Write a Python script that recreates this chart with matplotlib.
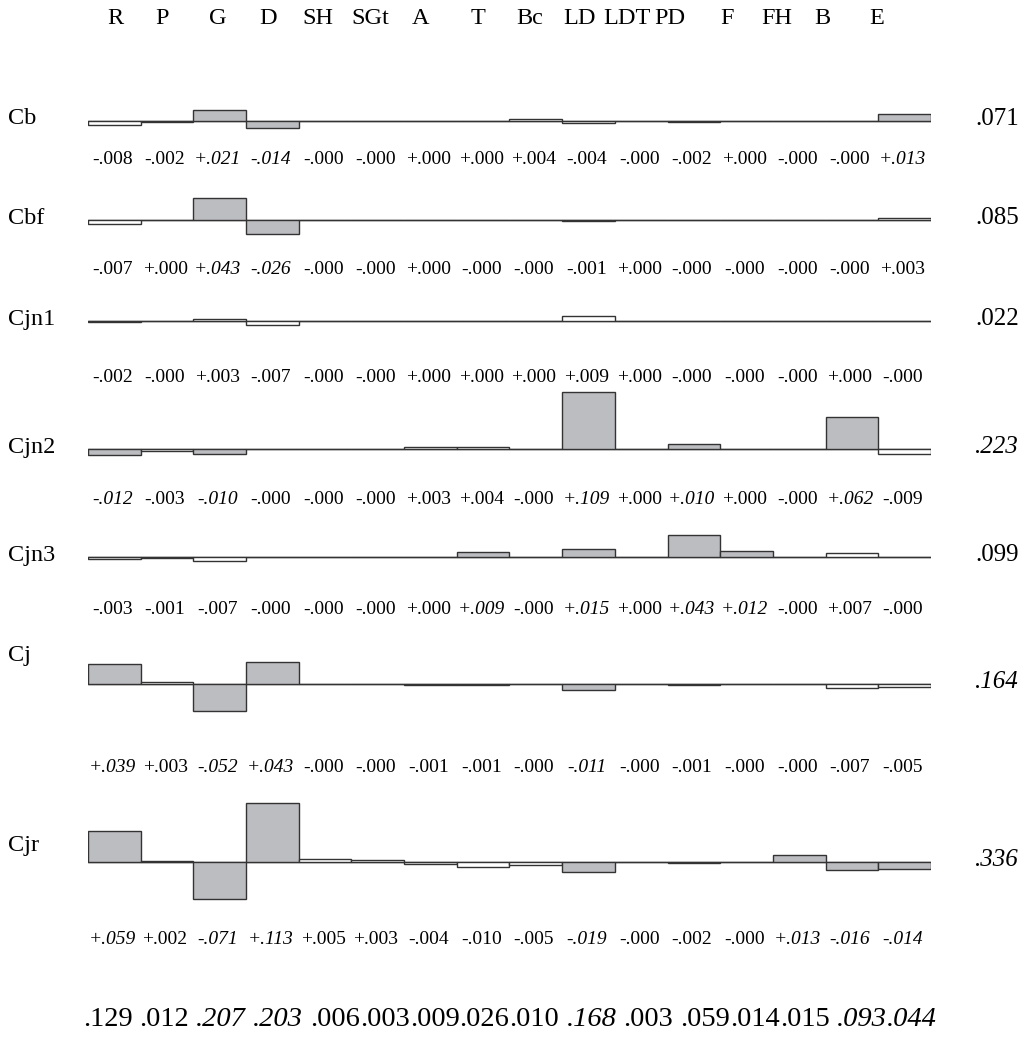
import matplotlib
matplotlib.use("Agg")
import matplotlib.pyplot as plt

plt.rcParams['font.family'] = ['Liberation Serif', 'DejaVu Serif']

columns = ["R", "P", "G", "D", "SH", "SGt", "A", "T", "Bc", "LD", "LDT", "PD",
           "F", "FH", "B", "E"]
rows = ["Cb", "Cbf", "Cjn1", "Cjn2", "Cjn3", "Cj", "Cjr"]

# signed contributions per row (-0.0 keeps the "-.000" sign)
cb = [-.008, -.002, .021, -.014, -0.0, -0.0, 0.0, 0.0, .004, -.004, -0.0, -.002,
      0.0, -0.0, -0.0, .013]
cbf = [-.007, 0.0, .043, -.026, -0.0, -0.0, 0.0, -0.0, -0.0, -.001, 0.0, -0.0,
       -0.0, -0.0, -0.0, .003]
cjn1 = [-.002, -0.0, .003, -.007, -0.0, -0.0, 0.0, 0.0, 0.0, .009, 0.0, -0.0,
        -0.0, -0.0, 0.0, -0.0]
cjn2 = [-.012, -.003, -.010, -0.0, -0.0, -0.0, .003, .004, -0.0, .109, 0.0, .010,
        0.0, -0.0, .062, -.009]
cjn3 = [-.003, -.001, -.007, -0.0, -0.0, -0.0, 0.0, .009, -0.0, .015, 0.0, .043,
        .012, -0.0, .007, -0.0]
cj = [.039, .003, -.052, .043, -0.0, -0.0, -.001, -.001, -0.0, -.011, -0.0, -.001,
      -0.0, -0.0, -.007, -.005]
cjr = [.059, .002, -.071, .113, .005, .003, -.004, -.010, -.005, -.019, -0.0, -.002,
       -0.0, .013, -.016, -.014]

# significant cells (shaded bar, italic label)
cb_sig = ["G", "D", "E"]
cbf_sig = ["G", "D"]
cjn1_sig = []
cjn2_sig = ["R", "G", "LD", "PD", "B"]
cjn3_sig = ["T", "LD", "PD", "F"]
cj_sig = ["R", "G", "D", "LD"]
cjr_sig = ["R", "G", "D", "LD", "FH", "B", "E"]

row_totals = [".071", ".085", ".022", ".223", ".099", ".164", ".336"]
row_totals_sig = ["Cjn2", "Cj", "Cjr"]
col_totals = [".129", ".012", ".207", ".203", ".006", ".003", ".009", ".026",
              ".010", ".168", ".003", ".059", ".014", ".015", ".093", ".044"]
col_totals_sig = ["G", "D", "LD", "B", "E"]

series = [cb, cbf, cjn1, cjn2, cjn3, cj, cjr]
sigs = [cb_sig, cbf_sig, cjn1_sig, cjn2_sig, cjn3_sig, cj_sig, cjr_sig]

W, H = 1027, 1044
fig = plt.figure(figsize=(W / 100, H / 100), dpi=100)

# overlay in pixel units for the text
tax = fig.add_axes([0, 0, 1, 1])
tax.set_xlim(0, W)
tax.set_ylim(H, 0)
tax.axis('off')

x0, x1 = 88, 931
colw = (x1 - x0) / len(columns)
px_per_unit = 520
half = 75

baselines = [121, 220, 321, 449, 557, 684, 862]
label_y = [160, 270, 378, 500, 609, 767, 940]
name_y = [118, 218, 320, 448, 556, 656, 845]
header_x = [115, 162, 218, 268, 318, 370, 421, 478, 530, 580, 627, 670, 727, 777,
            822, 877]

for i, c in enumerate(columns):
    tax.text(header_x[i], 18, c, fontsize=17.5, ha='center', va='center')

gray = '#bcbdc1'
for r, (name, vals, sig) in enumerate(zip(rows, series, sigs)):
    yb = baselines[r]
    ax = fig.add_axes([x0 / W, (H - yb - half) / H, (x1 - x0) / W, 2 * half / H])
    ax.set_xlim(-0.5, len(columns) - 0.5)
    ax.set_ylim(-half / px_per_unit, half / px_per_unit)
    ax.axis('off')
    ax.patch.set_alpha(0)
    ax.axhline(0, color='#444444', lw=1.0, zorder=1)
    colors = [gray if c in sig else 'white' for c in columns]
    ax.bar(range(len(columns)), vals, width=1.0, color=colors,
           edgecolor='#333333', linewidth=1.0, zorder=2)

    tax.text(8, name_y[r], name, fontsize=17.5, ha='left', va='center')
    tax.text(997, yb - 2, row_totals[r], fontsize=18, ha='center', va='center',
             style='italic' if name in row_totals_sig else 'normal')
    for i, (c, v) in enumerate(zip(columns, vals)):
        s = f"{v:+.3f}".replace("0.", ".", 1)
        tax.text(x0 + colw * (i + 0.5) - 2, label_y[r], s, fontsize=14,
                 ha='center', va='center',
                 style='italic' if c in sig else 'normal')

# column totals set as one line of text, a space only after some of them
spaced = {0, 1, 2, 3, 8, 9, 10, 13}
fs = 20.5
renderer = fig.canvas.get_renderer()
items = []
for c, t in zip(columns, col_totals):
    txt = tax.text(0, 1020, t, fontsize=fs, ha='left', va='center',
                   style='italic' if c in col_totals_sig else 'normal')
    items.append((txt, txt.get_window_extent(renderer).width))
space = 0.25 * fs * 100 / 72
total = sum(w for _, w in items) + space * len(spaced)
x = (x0 + x1) / 2 - total / 2
for i, (txt, w) in enumerate(items):
    txt.set_x(x)
    x += w + (space if i in spaced else 0)

plt.savefig("out.png", dpi=100)
